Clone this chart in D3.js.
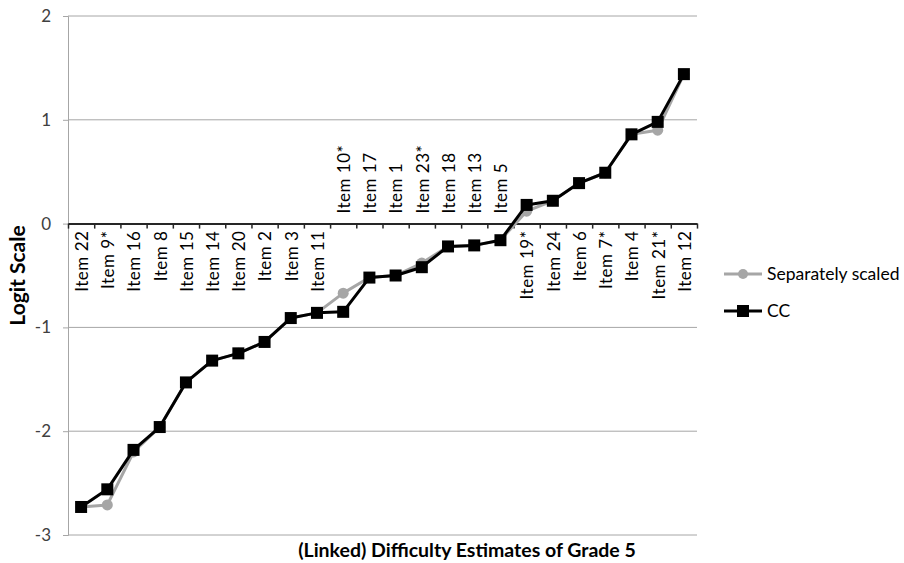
<!DOCTYPE html>
<html>
<head>
<meta charset="UTF-8">
<title></title>
<script src="https://cdn.jsdelivr.net/npm/d3@7"></script>
<style>
  body { margin: 0; background: #fff; }
  text { font-family: Lato, "Open Sans", sans-serif; }
</style>
</head>
<body>
<div id="chart"></div>
<script>
// data
var items = ["Item 22","Item 9*","Item 16","Item 8","Item 15","Item 14","Item 20","Item 2","Item 3","Item 11",
  "Item 10*","Item 17","Item 1","Item 23*","Item 18","Item 13","Item 5",
  "Item 19*","Item 24","Item 6","Item 7*","Item 4","Item 21*","Item 12"];
var cc = [-2.73,-2.56,-2.18,-1.96,-1.53,-1.32,-1.25,-1.14,-0.91,-0.86,
  -0.85,-0.52,-0.50,-0.42,-0.22,-0.21,-0.16,
  0.18,0.22,0.39,0.49,0.86,0.98,1.44];
var separately = [-2.73,-2.71,-2.20,-1.96,-1.53,-1.32,-1.25,-1.14,-0.91,-0.86,
  -0.67,-0.52,-0.50,-0.38,-0.22,-0.21,-0.16,
  0.12,0.22,0.39,0.49,0.86,0.90,1.44];
var yTicks = [2,1,0,-1,-2,-3];
// item labels that sit above the zero line
var labelsAbove = ["Item 10*","Item 17","Item 1","Item 23*","Item 18","Item 13","Item 5"];

var width = 904, height = 563;
var plot = {left: 68, right: 697, top: 16, bottom: 535};

var svg = d3.select("#chart").append("svg")
  .attr("width", width).attr("height", height);

var xScale = d3.scaleBand().domain(items).range([plot.left, plot.right]);
var xEdge = d3.scaleLinear().domain([0, items.length]).range([plot.left, plot.right]);
var yScale = d3.scaleLinear().domain([-3, 2]).range([plot.bottom, plot.top]);

// grid lines
svg.append("g")
  .selectAll("line").data(yTicks.filter(function(d){ return d !== 0; })).enter()
  .append("line")
  .attr("x1", plot.left).attr("x2", plot.right)
  .attr("y1", function(d){ return yScale(d); })
  .attr("y2", function(d){ return yScale(d); })
  .attr("stroke", "#a6a6a6").attr("stroke-width", 1);

// y axis
var yAxis = d3.axisLeft(yScale).tickValues(yTicks).tickSize(5).tickPadding(12)
  .tickFormat(d3.format("d"));
var gy = svg.append("g").attr("transform", "translate(" + plot.left + ",0)").call(yAxis);
gy.select(".domain").attr("stroke", "#a6a6a6");
gy.selectAll(".tick line").attr("stroke", "#a6a6a6");
gy.selectAll(".tick text").attr("fill", "#404040").style("font-size", "17px")
  .text(function(d){ return d < 0 ? "-" + Math.abs(d) : d; });

// x axis on zero line, ticks at category edges
var xAxis = d3.axisBottom(xEdge).tickValues(d3.range(items.length + 1)).tickSize(5)
  .tickSizeOuter(0).tickFormat("");
var gx = svg.append("g").attr("transform", "translate(0," + yScale(0) + ")").call(xAxis);
gx.select(".domain").attr("stroke", "#262626").attr("stroke-width", 2);
gx.selectAll(".tick line").attr("stroke", "#262626").attr("stroke-width", 1.5);

// item labels
svg.append("g").selectAll("text").data(items).enter().append("text")
  .attr("transform", function(d){
    var above = labelsAbove.indexOf(d) >= 0;
    var y = above ? yScale(0) - 10 : yScale(0) + 7;
    return "translate(" + (xScale(d) + xScale.bandwidth() / 2) + "," + y + ") rotate(-90)";
  })
  .attr("dy", "0.4em")
  .attr("text-anchor", function(d){ return labelsAbove.indexOf(d) >= 0 ? "start" : "end"; })
  .attr("fill", "#000").style("font-size", "17px").style("letter-spacing", "0.5px")
  .text(function(d){ return d; });

var line = d3.line()
  .x(function(d, i){ return xScale(items[i]) + xScale.bandwidth() / 2; })
  .y(function(d){ return yScale(d); });

// separately scaled (grey, circles)
svg.append("path").datum(separately)
  .attr("d", line).attr("fill", "none")
  .attr("stroke", "#a6a6a6").attr("stroke-width", 3).attr("stroke-linejoin", "round");
svg.append("g").selectAll("circle").data(separately).enter().append("circle")
  .attr("cx", function(d, i){ return xScale(items[i]) + xScale.bandwidth() / 2; })
  .attr("cy", function(d){ return yScale(d); })
  .attr("r", 5.5).attr("fill", "#a6a6a6");

// CC (black, squares)
svg.append("path").datum(cc)
  .attr("d", line).attr("fill", "none")
  .attr("stroke", "#000").attr("stroke-width", 3).attr("stroke-linejoin", "round");
svg.append("g").selectAll("rect").data(cc).enter().append("rect")
  .attr("x", function(d, i){ return xScale(items[i]) + xScale.bandwidth() / 2 - 6; })
  .attr("y", function(d){ return yScale(d) - 6; })
  .attr("width", 12).attr("height", 12).attr("fill", "#000");

// axis titles
svg.append("text")
  .attr("transform", "translate(25," + ((plot.top + plot.bottom) / 2) + ") rotate(-90)")
  .attr("text-anchor", "middle").attr("font-weight", "bold").style("font-size", "21px")
  .text("Logit Scale");
svg.append("text")
  .attr("x", 467).attr("y", 557)
  .attr("text-anchor", "middle").attr("font-weight", "bold").style("font-size", "19.5px")
  .text("(Linked) Difficulty Estimates of Grade 5");

// legend
var legend = svg.append("g").attr("transform", "translate(724,0)");
legend.append("line").attr("x1", 0).attr("x2", 38).attr("y1", 274).attr("y2", 274)
  .attr("stroke", "#a6a6a6").attr("stroke-width", 3);
legend.append("circle").attr("cx", 19).attr("cy", 274).attr("r", 5).attr("fill", "#a6a6a6");
legend.append("text").attr("x", 43).attr("y", 280).style("font-size", "17.5px")
  .text("Separately scaled");
legend.append("line").attr("x1", 0).attr("x2", 38).attr("y1", 311).attr("y2", 311)
  .attr("stroke", "#000").attr("stroke-width", 3);
legend.append("rect").attr("x", 13).attr("y", 305).attr("width", 12).attr("height", 12).attr("fill", "#000");
legend.append("text").attr("x", 43).attr("y", 317).style("font-size", "17.5px")
  .text("CC");
</script>
</body>
</html>
